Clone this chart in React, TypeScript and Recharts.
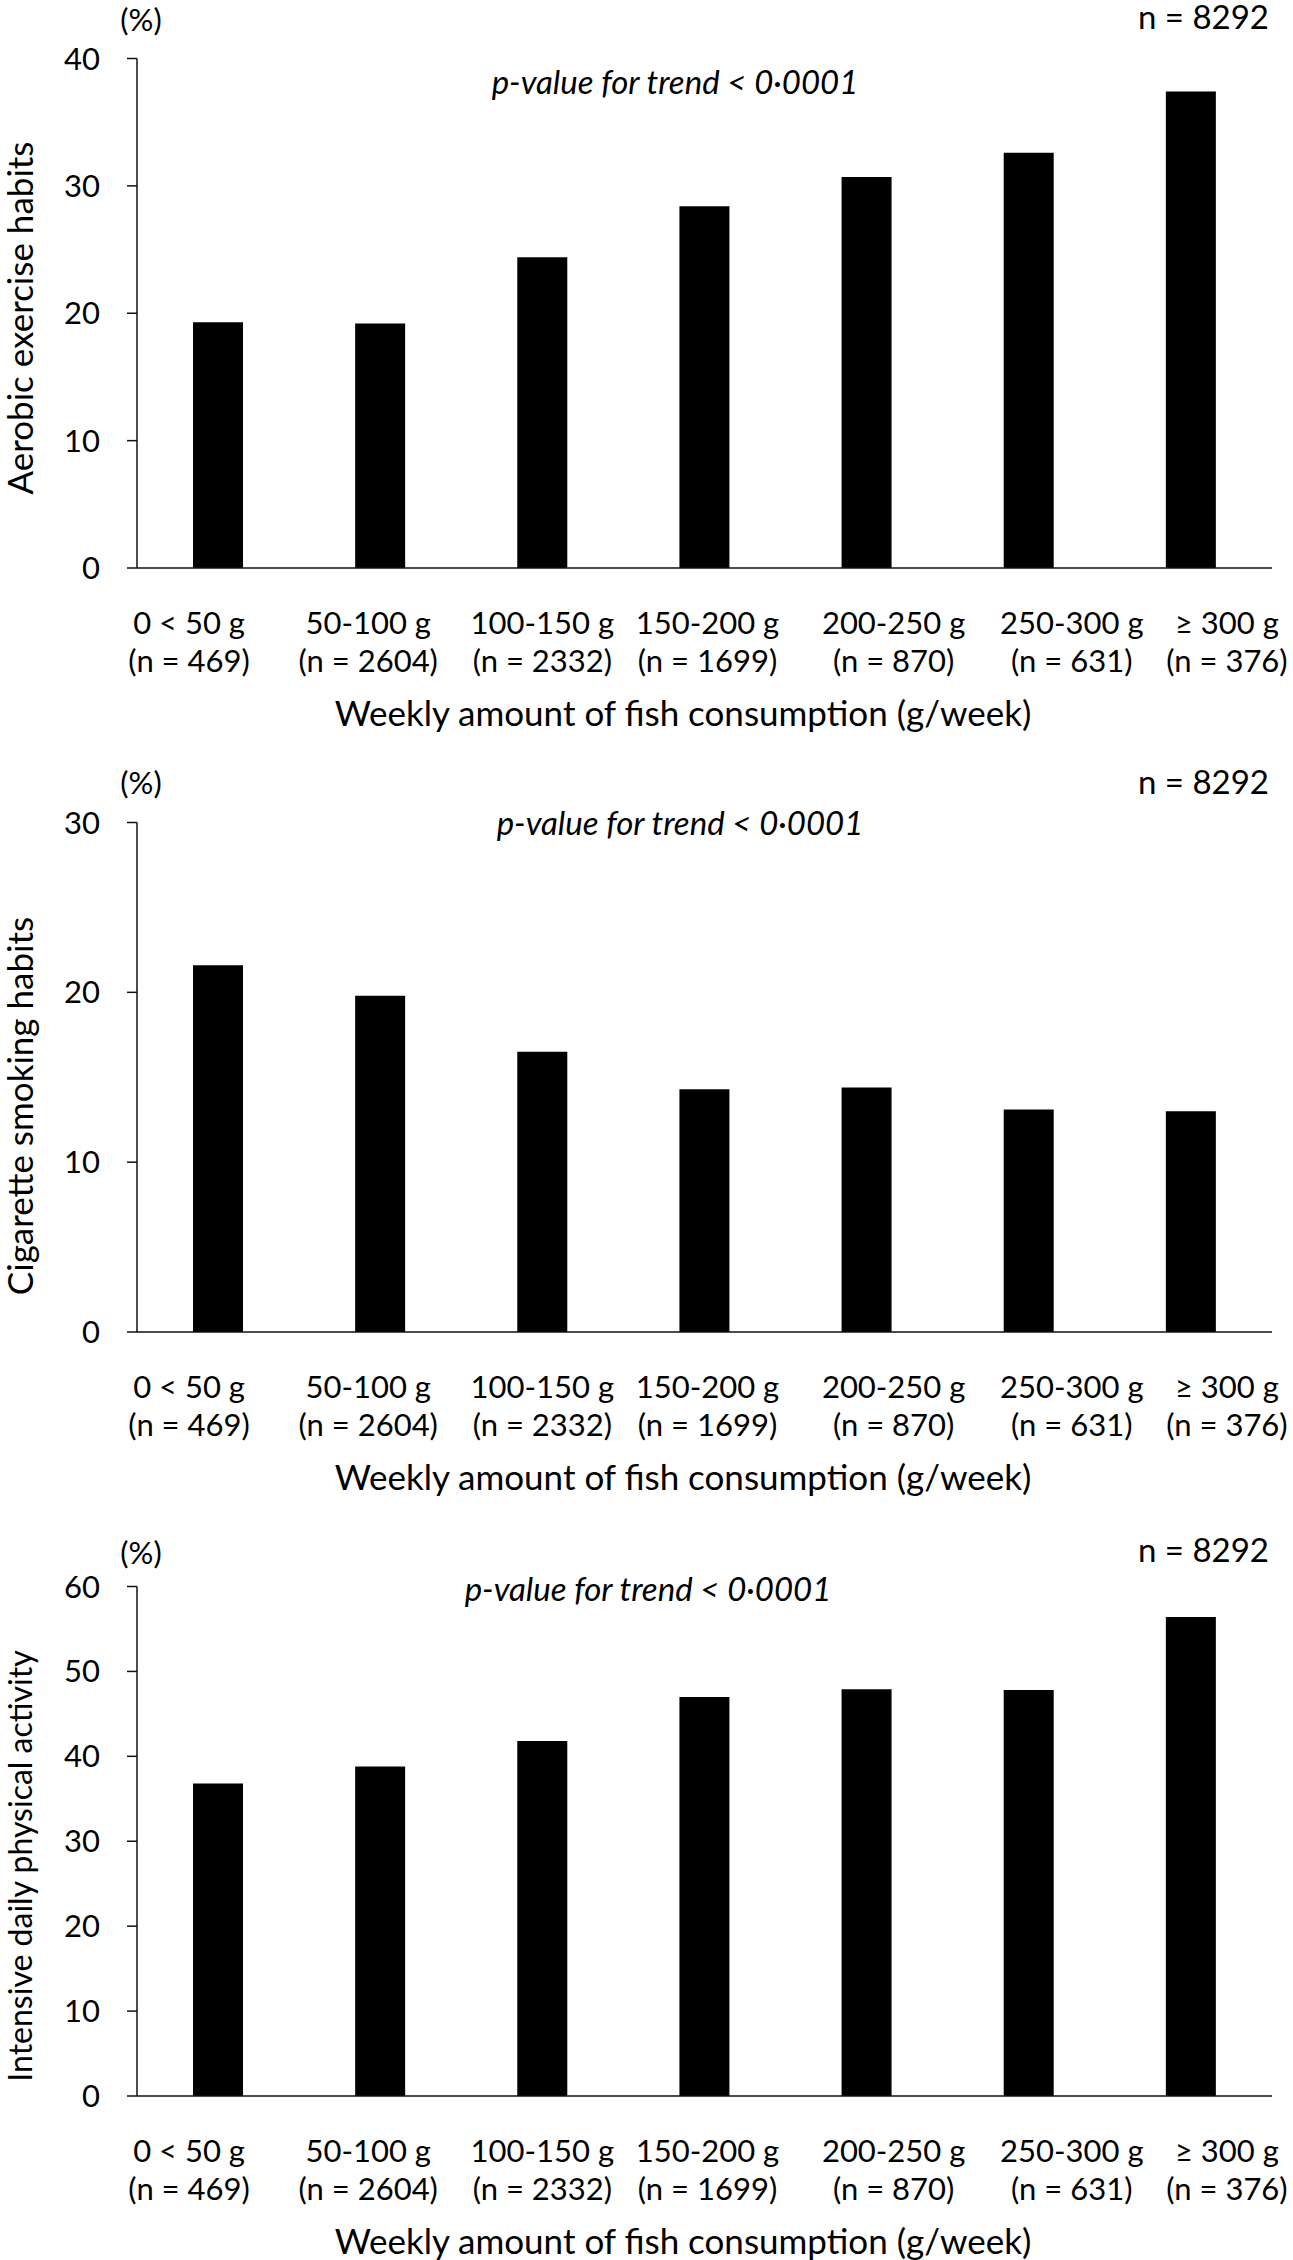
import React from 'react';
import { BarChart, Bar, XAxis, YAxis } from 'recharts';

// categories and sample sizes
const categories = ['0 < 50 g', '50-100 g', '100-150 g', '150-200 g', '200-250 g', '250-300 g', '≥ 300 g'];
const groupCounts = ['(n = 469)', '(n = 2604)', '(n = 2332)', '(n = 1699)', '(n = 870)', '(n = 631)', '(n = 376)'];

// percentages per category
const aerobicExercise = [19.3, 19.2, 24.4, 28.4, 30.7, 32.6, 37.4];
const cigaretteSmoking = [21.6, 19.8, 16.5, 14.3, 14.4, 13.1, 13.0];
const intensiveActivity = [36.8, 38.8, 41.8, 47.0, 47.9, 47.8, 56.4];

const aerobicTicks = [0, 10, 20, 30, 40];
const smokingTicks = [0, 10, 20, 30];
const intensiveTicks = [0, 10, 20, 30, 40, 50, 60];

const totalN = 'n = 8292';
const pValueText = 'p-value for trend < 0·0001';
const xTitle = 'Weekly amount of fish consumption (g/week)';

// label nudges: the original x labels are not exactly centred under the bars
const labelNudge = [-29, -12, 0, 3, 27, 43, 36];

const FONT = 'Lato, "Open Sans", sans-serif';
const FS = 31;
const W = 1293;
const PLOT_LEFT = 137;
const PLOT_RIGHT = 1272;
const PLOT_TOP = 58.5;
const ZERO_Y = 568;

const panels = [
  { key: 'a', title: 'Aerobic exercise habits', values: aerobicExercise, ticks: aerobicTicks, height: 764, pX: 675, pY: 82, titleY: 318, titleFs: 35, pctY: 20, nY: 17 },
  { key: 'b', title: 'Cigarette smoking habits', values: cigaretteSmoking, ticks: smokingTicks, height: 764, pX: 680, pY: 59, titleY: 342, titleFs: 35, pctY: 19, nY: 18 },
  { key: 'c', title: 'Intensive daily physical activity', values: intensiveActivity, ticks: intensiveTicks, height: 732, pX: 648, pY: 61, titleY: 338, titleFs: 32, pctY: 25, nY: 22 },
];

function XTick(props: any) {
  const { x, y, payload } = props;
  const i = payload.index;
  const cx = x + labelNudge[i];
  return (
    <text x={cx} y={y} textAnchor="middle" fontFamily={FONT} fontSize={FS} fill="#000">
      <tspan x={cx} dy={66}>{categories[i]}</tspan>
      <tspan x={cx} dy={38}>{groupCounts[i]}</tspan>
    </text>
  );
}

function Panel({ p }: { p: (typeof panels)[number] }) {
  const data = categories.map((c, i) => ({ name: c, value: p.values[i] }));
  const max = p.ticks[p.ticks.length - 1];
  return (
    <div style={{ position: 'relative', width: W, height: p.height }}>
      <BarChart
        width={W}
        height={p.height}
        data={data}
        margin={{ top: PLOT_TOP, right: W - PLOT_RIGHT, bottom: 0, left: 0 }}
      >
        <XAxis
          dataKey="name"
          height={p.height - ZERO_Y}
          interval={0}
          tickLine={false}
          tickSize={0}
          tickMargin={0}
          axisLine={{ stroke: '#111', strokeWidth: 1.5 }}
          tick={<XTick />}
        />
        <YAxis
          width={PLOT_LEFT}
          domain={[0, max]}
          ticks={p.ticks}
          interval={0}
          tickSize={10}
          tickMargin={27}
          tickLine={{ stroke: '#111', strokeWidth: 1.5 }}
          axisLine={{ stroke: '#111', strokeWidth: 1.5 }}
          tick={{ fill: '#000', fontSize: FS, fontFamily: FONT }}
        />
        <Bar dataKey="value" fill="#000" barSize={50} isAnimationActive={false} />
      </BarChart>
      <svg
        width={W}
        height={p.height}
        style={{ position: 'absolute', left: 0, top: 0, pointerEvents: 'none', overflow: 'visible' }}
        fontFamily={FONT}
        fontSize={FS}
        fill="#000"
      >
        <text x={141} y={p.pctY} dy="0.36em" textAnchor="middle">(%)</text>
        <text x={1269} y={p.nY} dy="0.36em" textAnchor="end" fontSize={33}>{totalN}</text>
        <text x={p.pX} y={p.pY} dy="0.36em" textAnchor="middle" fontStyle="italic" fontSize={33}>{pValueText}</text>
        <text x={683} y={713} dy="0.36em" textAnchor="middle" fontSize={35}>{xTitle}</text>
        <text
          transform={`translate(21, ${p.titleY}) rotate(-90)`}
          dy="0.33em"
          textAnchor="middle"
          fontSize={p.titleFs}
        >
          {p.title}
        </text>
      </svg>
    </div>
  );
}

export default function App() {
  return (
    <div style={{ width: W, background: '#fff' }}>
      <style>{'body{margin:0;background:#fff;overflow:hidden}'}</style>
      {panels.map((p) => (
        <Panel key={p.key} p={p} />
      ))}
    </div>
  );
}
